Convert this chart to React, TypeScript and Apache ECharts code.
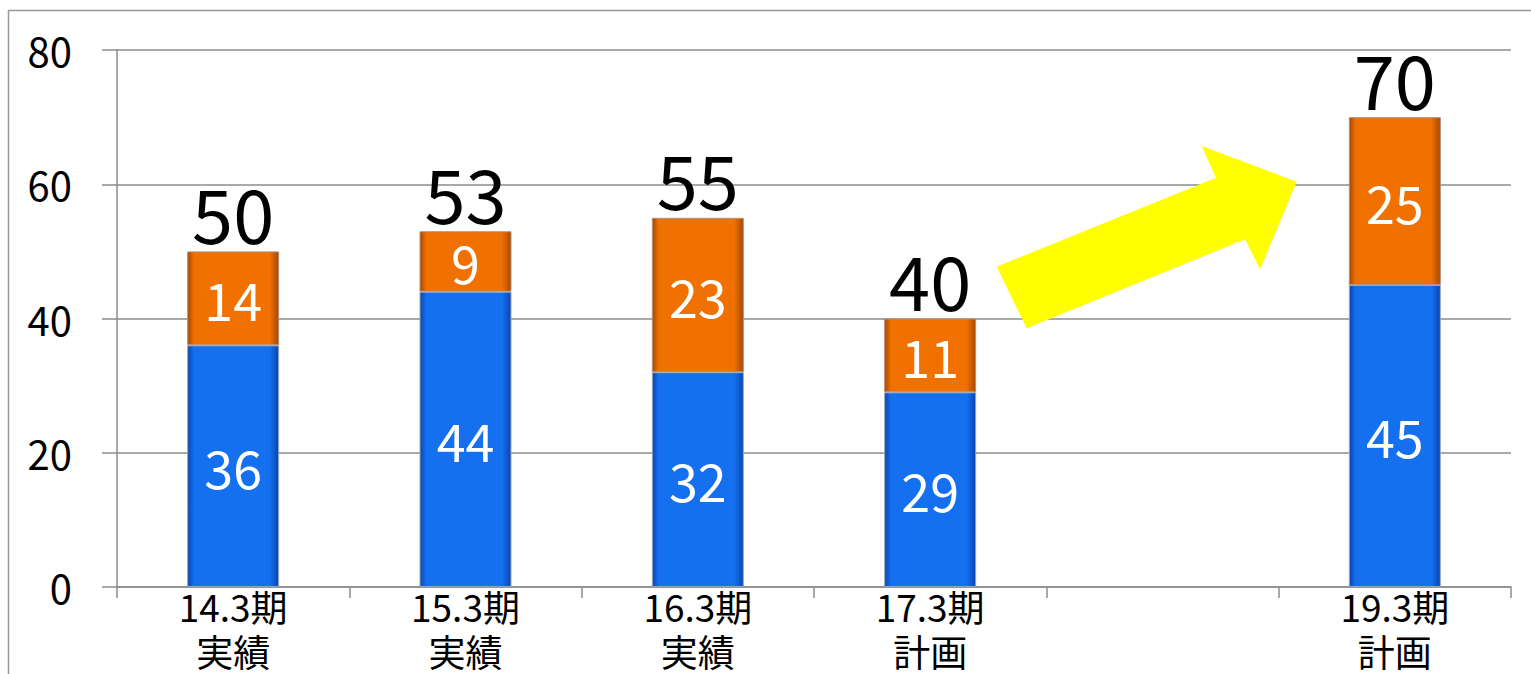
import React, { useEffect, useRef } from "react";
import * as echarts from "echarts";

const categories = ["14.3期\n実績", "15.3期\n実績", "16.3期\n実績", "17.3期\n計画", "", "19.3期\n計画"];
const blueValues: (number | string)[] = [36, 44, 32, 29, "-", 45];
const orangeValues: (number | string)[] = [14, 9, 23, 11, "-", 25];
const yTicks = { min: 0, max: 80, interval: 20 };

const FONT = "'Noto Sans CJK JP', 'Noto Sans', sans-serif";

function barGradient(edge: string, main: string) {
  return new echarts.graphic.LinearGradient(0, 0, 1, 0, [
    { offset: 0, color: edge },
    { offset: 0.07, color: main },
    { offset: 0.9, color: main },
    { offset: 1, color: edge },
  ]);
}

export default function App() {
  const ref = useRef<HTMLDivElement>(null);
  useEffect(() => {
    if (!ref.current) return;
    const chart = echarts.init(ref.current, null, { renderer: "svg" });
    const totals = blueValues.map((b, i) =>
      typeof b === "number" && typeof orangeValues[i] === "number" ? b + (orangeValues[i] as number) : "-"
    );
    const totalSeriesData = totals.map((t) => (t === "-" ? "-" : 0));
    chart.setOption({
      animation: false,
      backgroundColor: "#ffffff",
      textStyle: { fontFamily: FONT },
      grid: { left: 117, right: 20, top: 50, bottom: 87, containLabel: false },
      xAxis: {
        type: "category",
        data: categories,
        boundaryGap: true,
        axisLine: { show: true, lineStyle: { color: "#8c8c8c", width: 1.5 } },
        axisTick: { show: true, length: 11, inside: false, alignWithLabel: false, lineStyle: { color: "#8c8c8c", width: 1.5 } },
        axisLabel: {
          color: "#000",
          fontSize: 37,
          lineHeight: 45,
          margin: -4,
          fontFamily: FONT,
          interval: 0,
        },
        splitLine: { show: false },
      },
      yAxis: {
        type: "value",
        min: yTicks.min,
        max: yTicks.max,
        interval: yTicks.interval,
        axisLine: { show: true, lineStyle: { color: "#8c8c8c", width: 1.5 } },
        axisTick: { show: true, length: 15, inside: false, lineStyle: { color: "#8c8c8c", width: 1.5 } },
        axisLabel: { color: "#000", fontSize: 40, margin: 45, fontFamily: FONT },
        splitLine: { show: true, lineStyle: { color: "#8c8c8c", width: 1.5 } },
      },
      series: [
        {
          type: "bar",
          stack: "total",
          data: blueValues,
          barWidth: 92,
          itemStyle: {
            color: barGradient("#0a45b0", "#1570f0"),
            borderColor: "#9aa4b8",
            borderWidth: 1,
          },
          label: {
            show: true,
            position: "inside",
            color: "#fff",
            fontSize: 52,
            fontFamily: FONT,
          },
        },
        {
          type: "bar",
          stack: "total",
          data: orangeValues,
          barWidth: 92,
          itemStyle: {
            color: barGradient("#a84800", "#f07000"),
            borderColor: "#b09080",
            borderWidth: 1,
          },
          label: {
            show: true,
            position: "inside",
            color: "#fff",
            fontSize: 52,
            fontFamily: FONT,
          },
        },
        {
          type: "bar",
          stack: "total",
          data: totalSeriesData,
          barWidth: 92,
          itemStyle: { color: "transparent" },
          label: {
            show: true,
            position: "top",
            distance: 3,
            color: "#000",
            fontSize: 74,
            fontFamily: FONT,
            formatter: (p: any) => String(totals[p.dataIndex]),
          },
        },
      ],
      graphic: [
        {
          type: "rect",
          shape: { x: 8.5, y: 10.5, width: 1700, height: 900 },
          style: { fill: "none", stroke: "#999", lineWidth: 1.5 },
          silent: true,
          z: 0,
        },
        {
          type: "polygon",
          shape: {
            points: [
              [996.7, 266.7],
              [1026.7, 328.3],
              [1245, 239.3],
              [1260, 269.3],
              [1296.7, 181.7],
              [1201.7, 146],
              [1216, 177.7],
            ],
          },
          style: { fill: "#ffff00" },
          z: 100,
        },
      ],
    });
    return () => chart.dispose();
  }, []);
  return (
    <div
      ref={ref}
      style={{ position: "fixed", left: 0, top: 0, width: 1531, height: 674, background: "#fff" }}
    />
  );
}
